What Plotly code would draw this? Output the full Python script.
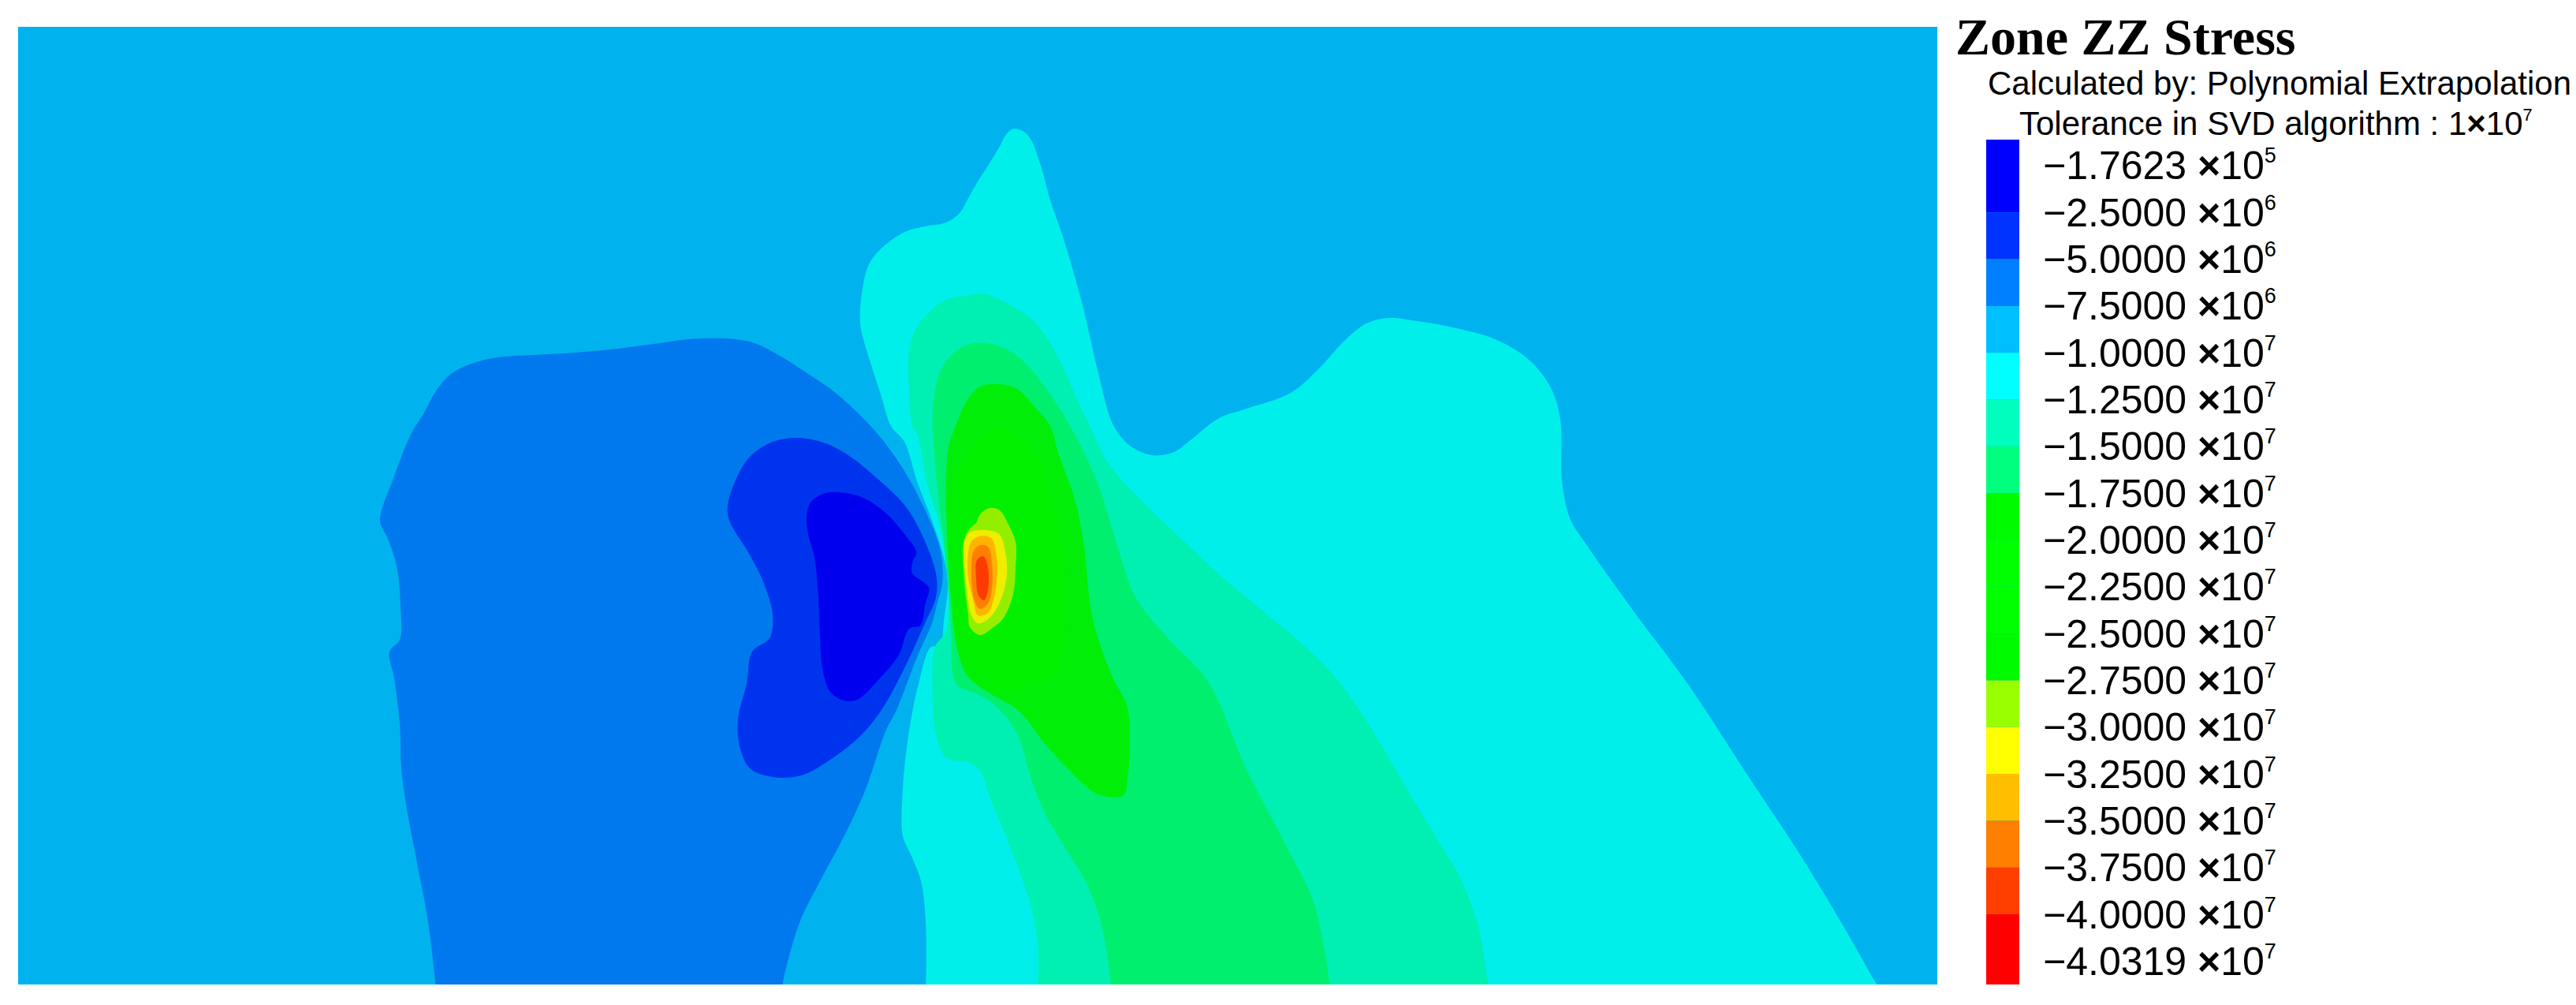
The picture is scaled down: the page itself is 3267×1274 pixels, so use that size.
import plotly.graph_objects as go

WIDTH = 3267
HEIGHT = 1274

# colour scale of the legend, one band per interval between two labels
band_edges = [-0.556, 1, 2, 3, 4, 5, 6, 7, 8, 9, 10, 11, 12, 13, 14, 15, 16, 17.5]
band_colors = ['#0000FF', '#0033FF', '#007FFF', '#00BFFF', '#00FFFF', '#00FFBF', '#00FF7F', '#00FA00', '#00FF00',
               '#00FF00', '#00FA00', '#99FF00', '#FFFF00', '#FFBF00', '#FF7F00', '#FF3F00', '#FF0000']
level_mantissas = ['1.7623', '2.5000', '5.0000', '7.5000', '1.0000', '1.2500', '1.5000', '1.7500', '2.0000',
                   '2.2500', '2.5000', '2.7500', '3.0000', '3.2500', '3.5000', '3.7500', '4.0000', '4.0319']
level_exponents = [5, 6, 6, 6, 7, 7, 7, 7, 7, 7, 7, 7, 7, 7, 7, 7, 7, 7]

# contour boundaries (outermost level first)
zone_5e6_x = [554, 543, 529, 516, 509, 507, 500, 494, 507, 508, 503, 492, 482, 498, 521, 538, 554, 572, 601, 632, 677,
              730, 784, 829, 873, 918, 954, 989, 1025, 1062, 1113, 1147, 1170, 1190, 1195, 1195, 1188, 1182, 1163,
              1137, 1123, 1098, 1072, 1040, 1015, 994, 990]
zone_5e6_y = [1265, 1169, 1094, 1026, 974, 917, 860, 826, 811, 769, 717, 683, 660, 609, 551, 523, 494, 474, 460, 453,
              450, 447, 442, 436, 430, 429, 434, 451, 474, 500, 550, 597, 640, 687, 713, 740, 767, 790, 833,
              900, 927, 1000, 1057, 1117, 1167, 1240, 1265]

zone_25e5_x = [925, 923, 937, 953, 980, 1013, 1050, 1080, 1113, 1147, 1167, 1187, 1187, 1173, 1147, 1118, 1091, 1053,
               1016, 980, 951, 938, 936, 947, 954, 976, 980, 969, 949, 925]
zone_25e5_y = [660, 640, 600, 577, 560, 555, 563, 580, 607, 640, 673, 727, 757, 790, 847, 900, 933, 963,
               983, 985, 974, 946, 911, 866, 826, 809, 780, 740, 700, 660]

zone_1e5_x = [1023, 1028, 1047, 1073, 1097, 1123, 1147, 1162, 1157, 1157, 1167, 1178, 1173, 1167, 1153, 1140, 1113,
              1087, 1070, 1053, 1043, 1040, 1038, 1033, 1025, 1023]
zone_1e5_y = [657, 637, 625, 625, 632, 650, 677, 700, 713, 727, 735, 745, 767, 793, 797, 830, 863,
              887, 888, 877, 847, 807, 760, 707, 677, 657]

zone_1e7_x = [2392, 2381, 2339, 2282, 2212, 2142, 2072, 2009, 1991, 1981, 1979, 1967, 1939, 1896, 1847, 1791, 1763,
              1735, 1707, 1672, 1637, 1581, 1546, 1511, 1489, 1461, 1433, 1412, 1393, 1383, 1373, 1360, 1347, 1333,
              1320, 1308, 1300, 1287, 1278, 1267, 1253, 1240, 1227, 1217, 1200, 1173, 1150, 1127, 1110, 1100, 1092,
              1091, 1095, 1100, 1117, 1130, 1147, 1163, 1182, 1197, 1202, 1197, 1192, 1181, 1165, 1152, 1145, 1145,
              1155, 1168, 1174, 1174]
zone_1e7_y = [1265, 1249, 1176, 1082, 976, 869, 775, 686, 657, 610, 533, 492, 456, 430, 416, 406, 403,
              409, 430, 468, 498, 518, 530, 557, 573, 577, 565, 539, 473, 430, 387, 340, 297, 257,
              210, 178, 168, 163, 168, 187, 210, 230, 253, 270, 282, 287, 293, 307, 323, 340, 380,
              410, 430, 447, 500, 540, 560, 610, 660, 707, 740, 787, 820, 820, 867, 933, 1000, 1060,
              1083, 1117, 1167, 1265]

zone_125e6_x = [1892, 1888, 1875, 1854, 1819, 1777, 1735, 1693, 1651, 1602, 1546, 1496, 1440, 1405, 1382, 1363, 1347,
                1327, 1307, 1283, 1250, 1223, 1200, 1177, 1160, 1152, 1153, 1157, 1163, 1177, 1192, 1200, 1203, 1200,
                1186, 1183, 1187, 1200, 1230, 1243, 1257, 1276, 1295, 1308, 1316, 1316]
zone_125e6_y = [1265, 1249, 1176, 1117, 1058, 988, 917, 858, 816, 775, 728, 681, 627, 586, 540, 500, 463,
                427, 403, 388, 373, 375, 380, 397, 420, 453, 493, 540, 550, 617, 667, 713, 753, 800,
                820, 883, 930, 960, 967, 977, 1015, 1060, 1110, 1150, 1193, 1265]

zone_15e6_x = [1690, 1687, 1679, 1665, 1630, 1581, 1532, 1482, 1440, 1419, 1391, 1357, 1327, 1300, 1277, 1250, 1227,
               1207, 1193, 1185, 1183, 1187, 1197, 1203, 1206, 1213, 1240, 1263, 1290, 1307, 1325, 1346, 1378, 1397,
               1408, 1408]
zone_15e6_y = [1265, 1249, 1200, 1141, 1070, 976, 864, 810, 757, 698, 610, 540, 493, 460, 443, 435, 437,
               450, 470, 500, 540, 600, 690, 750, 800, 867, 880, 895, 930, 985, 1030, 1067, 1120, 1173,
               1240, 1265]

zone_175e6_x = [1267, 1290, 1313, 1332, 1342, 1363, 1374, 1384, 1397, 1413, 1430, 1433, 1430, 1425, 1393, 1353, 1323,
                1303, 1287, 1257, 1230, 1222, 1213, 1206, 1200, 1203, 1212, 1227, 1243, 1267]
zone_175e6_y = [487, 493, 517, 540, 574, 633, 686, 775, 823, 863, 897, 947, 987, 1008, 1007, 973, 940,
                913, 897, 880, 860, 847, 817, 760, 633, 567, 540, 507, 490, 487]

zone_2e7_x = [1215, 1260, 1310, 1345, 1350, 1345, 1337, 1303, 1257, 1230, 1222, 1213, 1207, 1203, 1215]
zone_2e7_y = [600, 540, 570, 680, 780, 840, 858, 870, 877, 860, 847, 817, 717, 640, 600]

zone_275e6_x = [1243, 1255, 1268, 1278, 1288, 1288, 1285, 1273, 1260, 1243, 1230, 1228, 1223, 1222, 1230, 1238, 1243]
zone_275e6_y = [652, 644, 647, 663, 687, 720, 753, 783, 795, 805, 795, 780, 737, 687, 670, 663, 652]

zone_3e7_x = [1230, 1250, 1267, 1275, 1277, 1272, 1263, 1253, 1240, 1232, 1225, 1223, 1230]
zone_3e7_y = [675, 672, 677, 700, 727, 753, 773, 785, 790, 780, 737, 687, 675]

zone_325e6_x = [1233, 1247, 1258, 1263, 1265, 1260, 1253, 1240, 1235, 1228, 1228, 1233]
zone_325e6_y = [685, 679, 683, 700, 727, 760, 777, 780, 763, 733, 700, 685]

zone_35e6_x = [1235, 1243, 1253, 1258, 1258, 1253, 1243, 1236, 1232, 1235]
zone_35e6_y = [698, 691, 693, 713, 747, 765, 772, 762, 727, 698]

zone_375e6_x = [1239, 1247, 1253, 1253, 1248, 1241, 1238, 1239]
zone_375e6_y = [710, 705, 720, 747, 761, 755, 733, 710]

zones = [
    (zone_5e6_x, zone_5e6_y, '#0078EE'),
    (zone_25e5_x, zone_25e5_y, '#0033EE'),
    (zone_1e5_x, zone_1e5_y, '#0000EE'),
    (zone_1e7_x, zone_1e7_y, '#00EFEB'),
    (zone_125e6_x, zone_125e6_y, '#00EFB2'),
    (zone_15e6_x, zone_15e6_y, '#00EF6E'),
    (zone_175e6_x, zone_175e6_y, '#00EE08'),
    (zone_2e7_x, zone_2e7_y, '#00F000'),
    (zone_275e6_x, zone_275e6_y, '#94EE00'),
    (zone_3e7_x, zone_3e7_y, '#EEEE00'),
    (zone_325e6_x, zone_325e6_y, '#FFB400'),
    (zone_35e6_x, zone_35e6_y, '#FF7F00'),
    (zone_375e6_x, zone_375e6_y, '#FF3A00'),
]


def main():
    fig = go.Figure()

    for zone_x, zone_y, color in zones:
        fig.add_trace(go.Scatter(x=zone_x, y=zone_y, mode='lines', fill='toself', fillcolor=color,
                                 line=dict(color=color, width=0, shape='spline', smoothing=1.0),
                                 hoverinfo='skip', showlegend=False))

    # legend colour bar, drawn as bars on its own axes
    band_heights = [hi - lo for lo, hi in zip(band_edges[:-1], band_edges[1:])]
    fig.add_trace(go.Bar(x=[0] * len(band_heights), y=band_heights, base=band_edges[:-1], width=1,
                         marker=dict(color=band_colors, line=dict(width=0)),
                         xaxis='x2', yaxis='y2', hoverinfo='skip', showlegend=False))

    tick_text = [
        f'\u2212{m} <b>\u00d7</b>10<sup><span style="font-size:27px">{e}</span></sup>'
        for m, e in zip(level_mantissas, level_exponents)
    ]

    fig.update_layout(
        width=WIDTH,
        height=HEIGHT,
        margin=dict(l=0, r=0, t=0, b=0),
        paper_bgcolor='white',
        plot_bgcolor='#00B2EE',
        barmode='overlay',
        xaxis=dict(domain=[23 / WIDTH, 2457 / WIDTH], range=[23, 2457], visible=False),
        yaxis=dict(domain=[1 - 1248 / HEIGHT, 1 - 34 / HEIGHT], range=[1248, 34], visible=False),
        xaxis2=dict(domain=[2519 / WIDTH, 2561 / WIDTH], range=[-0.5, 0.5], visible=False, anchor='y2'),
        yaxis2=dict(domain=[1 - 1248 / HEIGHT, 1 - 177 / HEIGHT], range=[17.5, -0.556], anchor='x2', side='right',
                    tickmode='array', tickvals=list(range(len(tick_text))), ticktext=tick_text,
                    ticks='', showgrid=False, zeroline=False, showline=False, ticklabelstandoff=29,
                    tickfont=dict(family='Liberation Sans', size=50, color='black')),
        font=dict(family='Liberation Sans', color='black'),
        annotations=[
            dict(text='<b>Zone ZZ Stress</b>', xref='paper', yref='paper', x=2478 / WIDTH, y=1 - 46 / HEIGHT,
                 xanchor='left', yanchor='middle', showarrow=False, font=dict(family='Liberation Serif', size=66)),
            dict(text='Calculated by: Polynomial Extrapolation', xref='paper', yref='paper', x=2519 / WIDTH,
                 y=1 - 106 / HEIGHT, xanchor='left', yanchor='middle', showarrow=False, font=dict(size=42)),
            dict(text='Tolerance in SVD algorithm : 1<b>\u00d7</b>10<sup><span style="font-size:22px">7</span></sup>',
                 xref='paper', yref='paper', x=2559 / WIDTH, y=1 - 157 / HEIGHT, xanchor='left', yanchor='middle',
                 showarrow=False, font=dict(size=42)),
        ],
    )

    # the page's default body margin would push the figure off the window
    fig.write_html("out.html", config={'displayModeBar': False}, post_script="document.body.style.margin='0';")


if __name__ == '__main__':
    main()
